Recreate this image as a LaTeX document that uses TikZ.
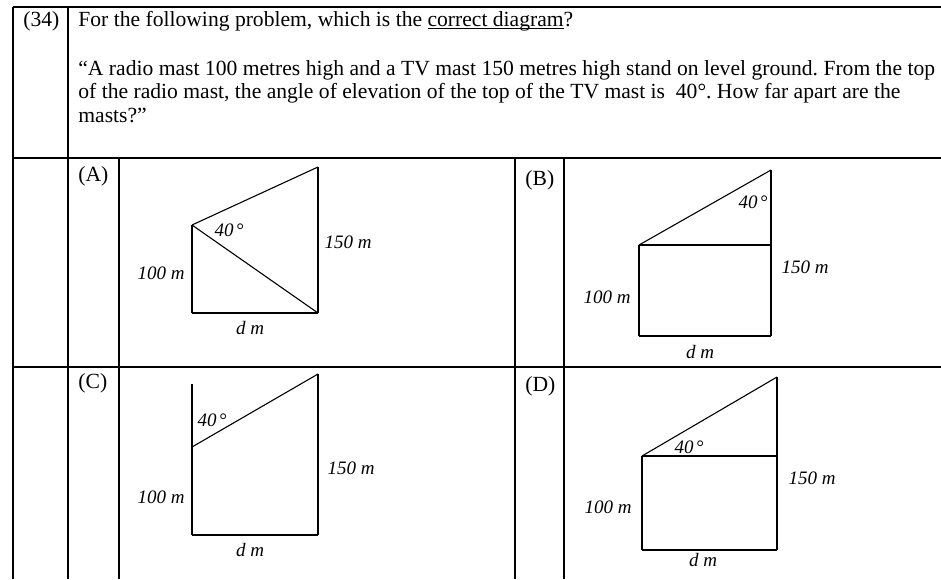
\documentclass[tikz,border=0pt]{standalone}
\usepackage{fontspec}
\setmainfont{Liberation Serif}
\newcommand{\wordline}[1]{\setbox0\hbox{#1}\rlap{\rule[-1.6pt]{\wd0}{0.45pt}}#1}

\begin{document}
\frenchspacing
\begin{tikzpicture}[
        x=0.5pt, y=-0.5pt,
        rule/.style={draw=black, line width=0.65pt},
        side/.style={draw=black, line width=0.55pt},
        mast/.style={draw=black, line width=0.8pt},
        body/.style={inner sep=0pt, anchor=base west, font=\fontsize{10.8}{12}\selectfont},
        len/.style={inner sep=0pt, font=\fontsize{9.5}{11}\selectfont\itshape}
    ]
        \useasboundingbox (0,0) rectangle (941,579);

        \draw [rule] (13,7) -- (941,7);
        \draw [rule] (13,158) -- (941,158);
        \draw [rule] (13,367) -- (941,367);
        \draw [rule] (13,7) -- (13,579);
        \draw [rule] (68,7) -- (68,579);
        \draw [rule] (119,158) -- (119,579);
        \draw [rule] (515,158) -- (515,579);
        \draw [rule] (564,158) -- (564,579);

        \node [body] (num) at (23,26) {(34)};
        \node [body] (ask) at (78,26) {For the following problem, which is the \wordline{correct diagram}?};
        \node [body] (q1) at (78,75) {“A radio mast 100 metres high and a TV mast 150 metres high stand on level ground. From the top};
        \node [body] (q2) at (78,98.5) {of the radio mast, the angle of elevation of the top of the TV mast is\enspace 40°. How far apart are the};
        \node [body] (q3) at (78,122) {masts?”};

        \node [body] (optA) at (78,181) {(A)};
        \node [body] (optB) at (525,185) {(B)};
        \node [body] (optC) at (78,388) {(C)};
        \node [body] (optD) at (525,391) {(D)};

        \coordinate (a1) at (192,313);
        \coordinate (a2) at (192,225);
        \coordinate (a3) at (318,313);
        \coordinate (a4) at (318,167);
        \draw [mast] (a1) -- (a2);
        \draw [mast] (a3) -- (a4);
        \draw [side] (a1) -- (a3);
        \draw [side] (a2) -- (a4);
        \draw [side] (a2) -- (a3);
        \node [len] (angA) at (229,230) {40\kern1.2pt°};
        \node [len] (tvA) at (348,242) {150 m};
        \node [len] (radA) at (161,273) {100 m};
        \node [len] (dA) at (250,328) {d m};

        \coordinate (b1) at (639,336);
        \coordinate (b2) at (639,245);
        \coordinate (b3) at (771,336);
        \coordinate (b4) at (771,170);
        \coordinate (b5) at (771,245);
        \draw [mast] (b1) -- (b2);
        \draw [mast] (b3) -- (b4);
        \draw [side] (b1) -- (b3);
        \draw [side] (b2) -- (b5);
        \draw [side] (b2) -- (b4);
        \node [len] (angB) at (753,202) {40\kern1.2pt°};
        \node [len] (tvB) at (805,267) {150 m};
        \node [len] (radB) at (607,297) {100 m};
        \node [len] (dB) at (700,352) {d m};

        \coordinate (c0) at (192,384);
        \coordinate (c1) at (192,535);
        \coordinate (c2) at (192,447);
        \coordinate (c3) at (318,535);
        \coordinate (c4) at (318,374);
        \draw [side] (c2) -- (c0);
        \draw [mast] (c1) -- (c2);
        \draw [mast] (c3) -- (c4);
        \draw [side] (c1) -- (c3);
        \draw [side] (c2) -- (c4);
        \node [len] (angC) at (212,420) {40\kern1.2pt°};
        \node [len] (tvC) at (351,468) {150 m};
        \node [len] (radC) at (161,497) {100 m};
        \node [len] (dC) at (250,550) {d m};

        \coordinate (d1) at (642,550);
        \coordinate (d2) at (642,456);
        \coordinate (d3) at (777,550);
        \coordinate (d4) at (777,377);
        \coordinate (d5) at (777,456);
        \draw [mast] (d1) -- (d2);
        \draw [mast] (d3) -- (d4);
        \draw [side] (d1) -- (d3);
        \draw [side] (d2) -- (d5);
        \draw [side] (d2) -- (d4);
        \node [len] (angD) at (689,447) {40\kern1.2pt°};
        \node [len] (tvD) at (812,478) {150 m};
        \node [len] (radD) at (608,507) {100 m};
        \node [len] (dD) at (703,560) {d m};
    \end{tikzpicture}
\end{document}
